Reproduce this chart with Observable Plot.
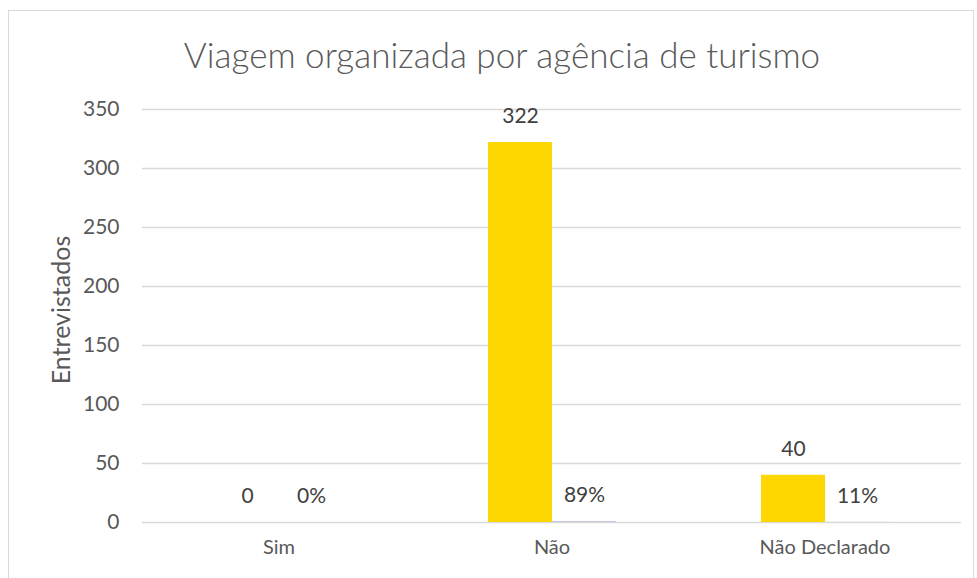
<!DOCTYPE html>
<html>
<head>
<meta charset="utf-8">
<script src="https://cdn.jsdelivr.net/npm/d3@7"></script>
<script src="https://cdn.jsdelivr.net/npm/@observablehq/plot@0.6"></script>
<style>
  html, body { margin: 0; padding: 0; background: #fff; }
  #wrap { position: relative; width: 977px; height: 578px; overflow: hidden; font-family: Lato, "Open Sans", sans-serif; }
  #border { position: absolute; left: 8px; top: 10px; width: 966px; height: 620px; border: 1.5px solid #d9d9d9; box-sizing: border-box; }
  #title { position: absolute; left: 0; width: 1004px; top: 33px; text-align: center; font-size: 35px; font-weight: 300; color: #595959; white-space: nowrap; }
  #ylabel { position: absolute; left: 60px; top: 310px; transform: translate(-50%, -50%) rotate(-90deg); font-size: 25px; color: #595959; white-space: nowrap; }
  #chart { position: absolute; left: 0; top: 0; }
</style>
</head>
<body>
<div id="wrap">
  <div id="border"></div>
  <div id="chart"></div>
  <div id="title">Viagem organizada por agência de turismo</div>
  <div id="ylabel">Entrevistados</div>
</div>
<script>
const categories = ["Sim", "Não", "Não Declarado"];
const counts = [0, 322, 40];
const percents = [0, 0.89, 0.11];
const percentLabels = ["0%", "89%", "11%"];
const yTicks = [0, 50, 100, 150, 200, 250, 300, 350];
const seriesNames = ["Entrevistados", "Percentual"];
const seriesColors = ["#FFD700", "#C9C5E2"];

const data = categories.flatMap((c, i) => [
  {cat: c, series: seriesNames[0], value: counts[i], label: String(counts[i])},
  {cat: c, series: seriesNames[1], value: percents[i], label: percentLabels[i]}
]);

const chart = Plot.plot({
  width: 977,
  height: 578,
  marginTop: 109,
  marginBottom: 56,
  marginLeft: 141,
  marginRight: 15,
  style: {fontFamily: "Lato, 'Open Sans', sans-serif", color: "#595959", background: "transparent"},
  fx: {domain: categories, padding: 0, label: null},
  x: {domain: seriesNames, paddingInner: 0, paddingOuter: 1.105, axis: null},
  y: {domain: [0, 350], label: null},
  color: {domain: seriesNames, range: seriesColors},
  marks: [
    Plot.gridY(yTicks, {stroke: "#d9d9d9", strokeOpacity: 1, strokeWidth: 1.5}),
    Plot.axisY(yTicks, {tickSize: 0, tickPadding: 23, fontSize: 21, fill: "#595959", label: null}),
    Plot.axisFx({anchor: "bottom", tickSize: 0, tickPadding: 17, fontSize: 20, fill: "#595959", label: null}),
    Plot.barY(data, {fx: "cat", x: "series", y: "value", fill: "series"}),
    Plot.text(data, {fx: "cat", x: "series", y: "value", text: "label", dy: -26, fontSize: 21, fill: "#404040"})
  ]
});
document.getElementById("chart").appendChild(chart);
</script>
</body>
</html>
